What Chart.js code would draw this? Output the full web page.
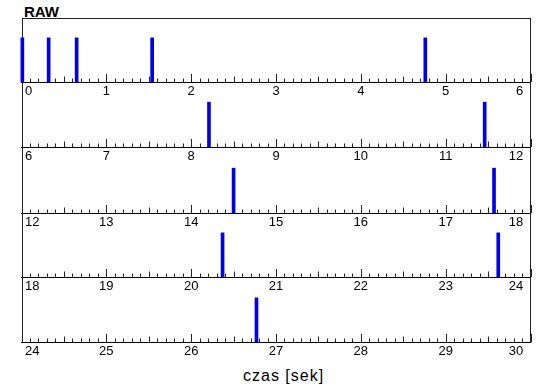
<!DOCTYPE html>
<html>
<head>
<meta charset="utf-8">
<script src="https://cdn.jsdelivr.net/npm/chart.js@4.4.0/dist/chart.umd.min.js"></script>
<style>
  body { margin: 0; background: #fff; }
  #wrap { position: relative; width: 550px; height: 389px; overflow: hidden; font-family: "Liberation Sans", Arial, sans-serif; }
  #wrap canvas { position: absolute; left: 0; }
  .txt { position: absolute; line-height: 1; color: #000; white-space: nowrap; }
</style>
</head>
<body>
<div id="wrap">
  <div class="txt" style="left:24px; top:4px; font-size:15px; font-weight:bold;">RAW</div>
  <div class="txt" style="left:243px; top:368px; font-size:16px; letter-spacing:1px;">czas [sek]</div>
</div>
<script>
// czasy zdarzen (s) i ich wysokosc
const eventTimes  = [0.01, 0.32, 0.65, 1.54, 4.76, 8.21, 11.46, 14.50, 17.57, 20.37, 23.62, 26.77];
const eventCounts = [1, 1, 1, 1, 1, 1, 1, 1, 1, 1, 1, 1];

// pasy osi czasu
const stripStarts = [0, 6, 12, 18, 24];
const stripLength = 6;

// geometria (px)
const frameTop = 18;
const axisY = [82, 147.5, 213, 277.5, 341.5];
const axisH = 20;
const padTop = 3;

// male kreski co 0.1 s, do gory od osi + ramka (pod slupkami)
const tickMarks = {
  id: 'tickMarks',
  beforeDatasetsDraw(chart) {
    const {ctx, chartArea: a, scales: {x}} = chart;
    ctx.save();
    ctx.strokeStyle = '#222';
    ctx.lineWidth = 1;
    ctx.beginPath();
    for (let k = Math.round(x.min * 10); k <= Math.round(x.max * 10); k++) {
      const px = Math.round(x.getPixelForValue(k / 10)) + 0.5;
      const len = k % 10 === 0 ? 8 : (k % 5 === 0 ? 5.5 : 3.5);
      ctx.moveTo(px, a.bottom);
      ctx.lineTo(px, a.bottom - len);
    }
    const l = Math.round(a.left) + 0.5, r = Math.round(a.right) - 0.5;
    ctx.moveTo(l, a.bottom);
    ctx.lineTo(l, a.top);
    ctx.moveTo(r, a.bottom);
    ctx.lineTo(r, a.top);
    if (chart.options.plugins.tickMarks.top) {
      ctx.moveTo(l, Math.round(a.top) + 0.5);
      ctx.lineTo(r, Math.round(a.top) + 0.5);
    }
    ctx.stroke();
    ctx.restore();
  }
};

const wrap = document.getElementById('wrap');

stripStarts.forEach(function(start, i) {
  const top = i === 0 ? frameTop : axisY[i - 1];
  const h = axisY[i] - top;
  const cv = document.createElement('canvas');
  cv.width = 550;
  cv.height = h + padTop + axisH;
  cv.style.top = (top - padTop) + 'px';
  wrap.appendChild(cv);

  const pts = [];
  eventTimes.forEach(function(t, j) {
    if (t >= start && t < start + stripLength) pts.push({x: t, y: eventCounts[j]});
  });

  new Chart(cv, {
    type: 'bar',
    data: {
      datasets: [{
        data: pts,
        backgroundColor: 'rgb(0, 0, 235)',
        barThickness: 3,
        borderWidth: 0,
        clip: false
      }]
    },
    options: {
      responsive: false,
      animation: false,
      devicePixelRatio: 1,
      layout: { padding: { left: 21.5, right: 19.5, top: padTop, bottom: 0 } },
      plugins: {
        legend: { display: false },
        tooltip: { enabled: false },
        tickMarks: { top: i === 0 }
      },
      scales: {
        x: {
          type: 'linear',
          offset: false,
          min: start,
          max: start + stripLength,
          afterFit: function(s) { s.height = axisH; },
          grid: { display: false, drawTicks: false, offset: false },
          border: { display: true, color: '#000', width: 1 },
          ticks: {
            stepSize: 1,
            autoSkip: false,
            maxRotation: 0,
            align: 'inner',
            padding: 2,
            color: '#000',
            font: { family: '"Liberation Sans", Arial, sans-serif', size: 13 },
            callback: function(v, idx, all) {
              if (idx === 0) return ' ' + v;
              if (idx === all.length - 1) return v + '  ';
              return String(v);
            }
          }
        },
        y: {
          display: false,
          min: 0,
          max: 1.45
        }
      }
    },
    plugins: [tickMarks]
  });
});
</script>
</body>
</html>
